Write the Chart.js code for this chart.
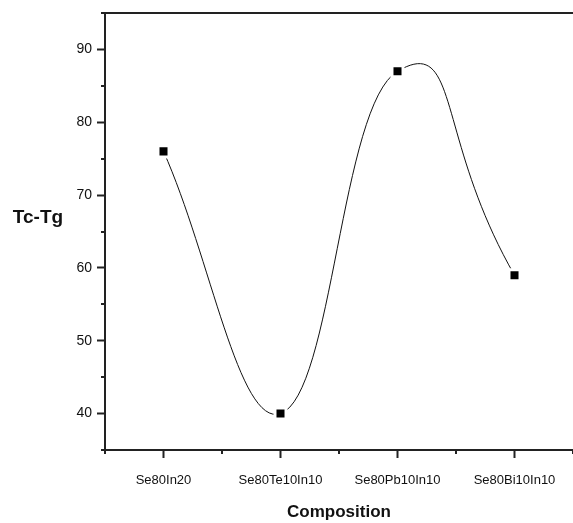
<!DOCTYPE html>
<html>
<head>
<meta charset="utf-8">
<script src="https://cdn.jsdelivr.net/npm/chart.js@4"></script>
<style>
  html, body { margin: 0; padding: 0; background: #fff; }
  #wrap { width: 573px; height: 523px; }
</style>
</head>
<body>
<div id="wrap"><canvas id="myChart" width="573" height="523"></canvas></div>
<script>
// data
const compositions = ["Se80In20", "Se80Te10In10", "Se80Pb10In10", "Se80Bi10In10"];
const tcMinusTg = [76, 40, 87, 59];
const yTicks = [40, 50, 60, 70, 80, 90];
const yMinorTicks = [35, 45, 55, 65, 75, 85, 95];

const axisColor = "#222";
const lineColor = "#111";
const hidden = "rgba(0,0,0,0)";
const fontFamily = "'Liberation Sans', Arial, sans-serif";

// minor ticks, top frame line and the horizontal y title
const extras = {
  id: "extras",
  afterDraw(chart) {
    const ctx = chart.ctx;
    const area = chart.chartArea;
    const x = chart.scales.x;
    const y = chart.scales.y;
    ctx.save();
    ctx.strokeStyle = axisColor;
    ctx.lineWidth = 2;
    ctx.beginPath();
    ctx.moveTo(area.left - 1, area.top);
    ctx.lineTo(area.right, area.top);
    // y minor ticks
    yMinorTicks.forEach(function (v) {
      const py = Math.round(y.getPixelForValue(v));
      ctx.moveTo(area.left - 4, py);
      ctx.lineTo(area.left, py);
    });
    // x minor ticks
    for (let i = -0.5; i <= compositions.length - 0.5; i++) {
      const px = Math.round(x.getPixelForValue(i));
      ctx.moveTo(px, area.bottom);
      ctx.lineTo(px, area.bottom + 4);
    }
    ctx.stroke();

    ctx.fillStyle = "#111";
    ctx.font = "bold 19px " + fontFamily;
    ctx.textAlign = "center";
    ctx.textBaseline = "middle";
    ctx.fillText("Tc-Tg", 38, 218);
    ctx.restore();
  },
};

// the spline overshoots more after Se80Pb10In10, so that last
// segment comes from a second, higher-tension copy of the same series
const data = {
  labels: compositions,
  datasets: [
    {
      data: tcMinusTg,
      borderColor: lineColor,
      borderWidth: 1,
      tension: 0.4,
      segment: {
        borderColor: (c) => (c.p0DataIndex === 2 ? hidden : lineColor),
      },
      pointStyle: "rect",
      pointRadius: 7.8,
      pointBackgroundColor: "#000",
      pointBorderColor: "#fff",
      pointBorderWidth: 3,
      clip: false,
    },
    {
      data: tcMinusTg,
      borderColor: lineColor,
      borderWidth: 1,
      tension: 0.68,
      segment: {
        borderColor: (c) => (c.p0DataIndex === 2 ? lineColor : hidden),
      },
      pointRadius: 0,
      clip: false,
    },
  ],
};

const config = {
  type: "line",
  data: data,
  options: {
    responsive: false,
    animation: false,
    events: [],
    layout: {
      autoPadding: false,
      padding: { left: 0, right: 0, top: 13, bottom: 0 },
    },
    plugins: {
      legend: { display: false },
      tooltip: { enabled: false },
    },
    scales: {
      x: {
        type: "category",
        offset: true,
        grid: {
          offset: false,
          drawOnChartArea: false,
          tickLength: 8,
          tickWidth: 2,
          tickColor: axisColor,
        },
        border: { color: axisColor, width: 2 },
        ticks: {
          color: "#111",
          padding: 15,
          maxRotation: 0,
          font: { family: fontFamily, size: 13 },
        },
        title: {
          display: true,
          text: "Composition",
          color: "#111",
          font: { family: fontFamily, size: 17, weight: "bold" },
          padding: { top: 0, bottom: 0 },
        },
        afterFit(scale) {
          scale.height = 73;
          scale.paddingLeft = 0;
          scale.paddingRight = 0;
        },
      },
      y: {
        min: 35,
        max: 95,
        afterBuildTicks(scale) {
          scale.ticks = yTicks.map(function (v) { return { value: v }; });
        },
        grid: {
          drawOnChartArea: false,
          tickLength: 8,
          tickWidth: 2,
          tickColor: axisColor,
        },
        border: { color: axisColor, width: 2 },
        ticks: {
          color: "#111",
          padding: 5,
          font: { family: fontFamily, size: 14 },
        },
        afterFit(scale) {
          scale.width = 105;
          scale.paddingTop = 0;
          scale.paddingBottom = 0;
        },
      },
    },
  },
  plugins: [extras],
};

var myChart = new Chart(document.getElementById("myChart"), config);
</script>
</body>
</html>
